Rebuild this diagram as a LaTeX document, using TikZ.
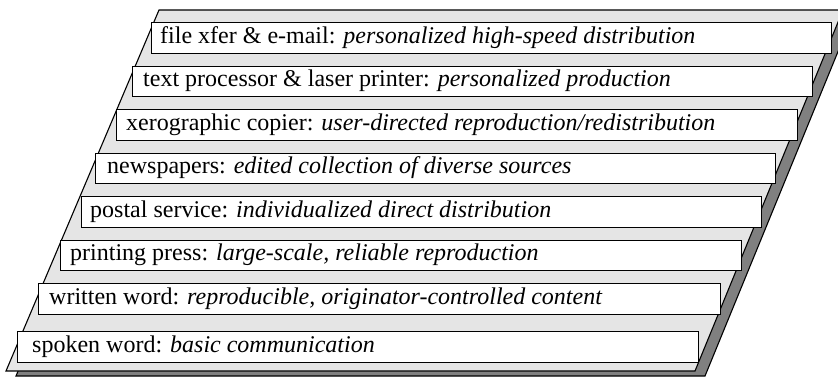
\documentclass[tikz,border=0pt]{standalone}
\usepackage{fontspec}
\setmainfont{Liberation Serif}[
  UprightFont={Liberation Serif},
  ItalicFont={Liberation Serif Italic},
  BoldFont={Liberation Serif Bold}]
\definecolor{slabtop}{gray}{0.9}
\definecolor{slabside}{gray}{0.5}
\begin{document}
\begin{tikzpicture}[x=1pt,y=-1pt,
  slab/.style={draw=black, line width=1.1pt, line join=miter},
  layerbox/.style={draw=black, line width=1.2pt, fill=white, anchor=north west,
    minimum height=30.5pt, inner sep=0pt},
  layertext/.style={anchor=west, inner sep=0pt, font=\fontsize{24}{28}\selectfont\strut}]
\useasboundingbox (0,0) rectangle (838,376);

% slab: dark thickness behind, light top face in front
\filldraw[slab, fill=slabside] (169,15) -- (853,15) -- (705,376) -- (16,376) -- cycle;
\filldraw[slab, fill=slabtop] (159,10) -- (843,10) -- (695,371) -- (6,371) -- cycle;

% layers, from top to bottom
\node[layerbox, minimum width=680pt] (b1) at (151,22) {};
\node[layerbox, minimum width=680pt] (b2) at (132,65.5) {};
\node[layerbox, minimum width=681pt] (b3) at (116,109) {};
\node[layerbox, minimum width=680pt] (b4) at (95,152.5) {};
\node[layerbox, minimum width=680pt] (b5) at (81,196) {};
\node[layerbox, minimum width=681pt] (b6) at (60,239.5) {};
\node[layerbox, minimum width=682pt] (b7) at (38,283) {};
\node[layerbox, minimum width=681pt] (b8) at (17,331) {};

\node[layertext] (t1) at ([xshift=9pt]b1.west) {file xfer \& e-mail: \textit{personalized high-speed distribution}};
\node[layertext] (t2) at ([xshift=11pt]b2.west) {text processor \& laser printer: \textit{personalized production}};
\node[layertext] (t3) at ([xshift=10pt]b3.west) {xerographic copier: \textit{user-directed reproduction/redistribution}};
\node[layertext] (t4) at ([xshift=12pt]b4.west) {newspapers: \textit{edited collection of diverse sources}};
\node[layertext] (t5) at ([xshift=9pt]b5.west) {postal service: \textit{individualized direct distribution}};
\node[layertext] (t6) at ([xshift=10pt]b6.west) {printing press: \textit{large-scale, reliable reproduction}};
\node[layertext] (t7) at ([xshift=11pt]b7.west) {written word: \textit{reproducible, originator-controlled content}};
\node[layertext] (t8) at ([xshift=15pt]b8.west) {spoken word: \textit{basic communication}};
\end{tikzpicture}
\end{document}
